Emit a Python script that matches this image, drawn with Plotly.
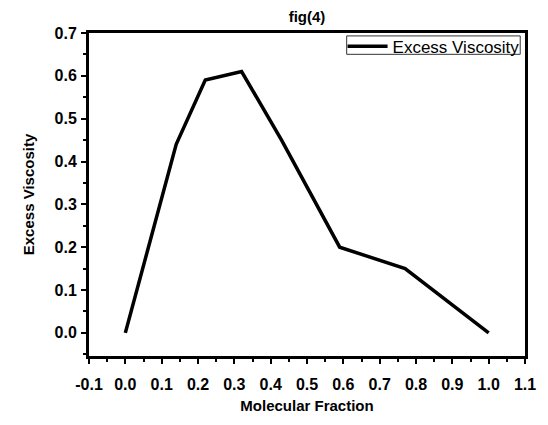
import plotly.graph_objects as go

x_fraction = [0.0, 0.14, 0.22, 0.32, 0.43, 0.59, 0.77, 1.0]
excess_viscosity = [0.0, 0.44, 0.59, 0.61, 0.45, 0.20, 0.15, 0.0]
series_name = "Excess Viscosity"
x_ticks = [round(-0.1 + 0.1 * i, 1) for i in range(13)]
y_ticks = [round(0.1 * i, 1) for i in range(8)]

tick_font = dict(family="Liberation Sans", size=16, color="black", weight="bold")
title_font = dict(family="Liberation Sans", size=15, color="black", weight="bold")

# page body has an 8px default margin, so the figure is 540x417 and offset by 8px
fig = go.Figure()
fig.add_trace(go.Scatter(
    x=x_fraction, y=excess_viscosity, mode="lines", name=series_name,
    line=dict(color="black", width=3.5),
))

fig.update_layout(
    width=540, height=417,
    margin=dict(l=81, r=12, t=25, b=57),
    paper_bgcolor="white", plot_bgcolor="white",
    showlegend=True,
    title=dict(text="fig(4)", x=0.5, xref="paper", xanchor="center",
               y=0.978, yref="container", yanchor="middle",
               font=dict(family="Liberation Sans", size=15, color="black", weight="bold")),
    legend=dict(x=0.999, y=1.013, xanchor="right", yanchor="top",
                bgcolor="rgba(0,0,0,0)", borderwidth=0,
                font=dict(family="Liberation Sans", size=17, color="black"),
                itemwidth=40, tracegroupgap=0),
    shapes=[dict(type="rect", xref="paper", yref="paper",
                 x0=0.591, x1=0.989, y0=0.934, y1=0.991,
                 line=dict(color="#333", width=1), fillcolor="rgba(0,0,0,0)", layer="above")],
)

fig.update_xaxes(
    range=[-0.1, 1.1], tickvals=x_ticks, ticktext=[f"{v:.1f}" for v in x_ticks],
    showgrid=False, zeroline=False,
    showline=True, linecolor="black", linewidth=3, mirror=True,
    ticks="outside", ticklen=5, tickwidth=2, tickcolor="black",
    minor=dict(ticks="outside", ticklen=3, tickwidth=2, tickcolor="black", dtick=0.05, tick0=-0.1, showgrid=False),
    tickfont=tick_font, ticklabelstandoff=7,
    title=dict(text="Molecular Fraction", standoff=9, font=title_font),
)
fig.update_yaxes(
    range=[-0.054, 0.7], tickvals=y_ticks, ticktext=[f"{v:.1f}" for v in y_ticks],
    showgrid=False, zeroline=False,
    showline=True, linecolor="black", linewidth=3, mirror=True,
    ticks="outside", ticklen=5, tickwidth=2, tickcolor="black",
    minor=dict(ticks="outside", ticklen=3, tickwidth=2, tickcolor="black", dtick=0.05, tick0=0.0, showgrid=False),
    tickfont=tick_font, ticklabelstandoff=1,
    title=dict(text="Excess Viscosity", standoff=17, font=title_font),
)

fig.write_html("out.html")
